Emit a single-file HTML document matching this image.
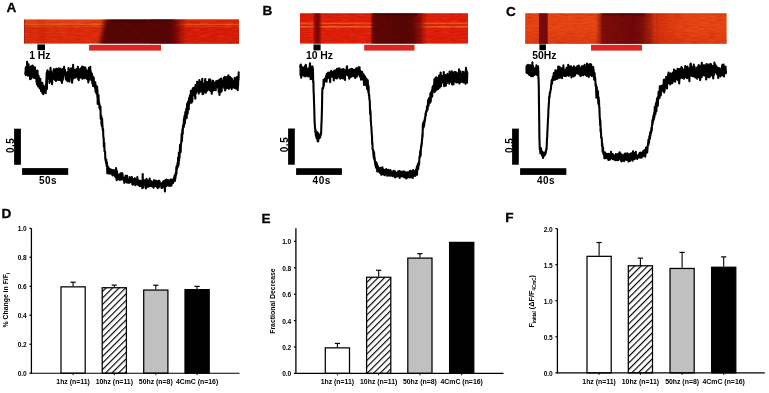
<!DOCTYPE html>
<html><head><meta charset="utf-8"><style>
html,body{margin:0;padding:0;background:#fff;}
body{width:769px;height:393px;overflow:hidden;position:relative;}
svg{position:absolute;left:0;top:0;will-change:transform;}
text{font-family:"Liberation Sans",sans-serif;font-weight:bold;fill:#000;}
.pl{font-size:13.6px;stroke:#000;stroke-width:0.3px;}
.hz{font-size:10.4px;}
.sb{font-size:10px;letter-spacing:0.5px;}
.tk{font-size:6.6px;}
.xl{font-size:6.9px;}
.yl{font-size:6.9px;}
</style></head><body>
<svg width="769" height="393" viewBox="0 0 769 393">
<defs>
<pattern id="hatchD" patternUnits="userSpaceOnUse" width="4.6" height="4.6" patternTransform="translate(2.8 0) rotate(45)">
<rect width="4.6" height="4.6" fill="#fff"/><line x1="0" y1="0" x2="0" y2="4.6" stroke="#000" stroke-width="2.3"/>
</pattern>
<pattern id="hatchE" patternUnits="userSpaceOnUse" width="4.6" height="4.6" patternTransform="translate(4.4 0) rotate(45)">
<rect width="4.6" height="4.6" fill="#fff"/><line x1="0" y1="0" x2="0" y2="4.6" stroke="#000" stroke-width="2.3"/>
</pattern>
<pattern id="hatchF" patternUnits="userSpaceOnUse" width="4.6" height="4.6" patternTransform="translate(2.0 0) rotate(45)">
<rect width="4.6" height="4.6" fill="#fff"/><line x1="0" y1="0" x2="0" y2="4.6" stroke="#000" stroke-width="2.3"/>
</pattern>

<linearGradient id="fadeR" x1="0" x2="1" y1="0" y2="0">
<stop offset="0" stop-color="#560505" stop-opacity="1"/>
<stop offset="0.3" stop-color="#680606" stop-opacity="0.9"/>
<stop offset="1" stop-color="#a01008" stop-opacity="0"/>
</linearGradient>
<linearGradient id="fadeL" x1="0" x2="1" y1="0" y2="0">
<stop offset="0" stop-color="#5e0606" stop-opacity="0"/>
<stop offset="1" stop-color="#5e0606" stop-opacity="1"/>
</linearGradient>
<linearGradient id="fadeRB" x1="0" x2="1" y1="0" y2="0">
<stop offset="0" stop-color="#560505" stop-opacity="1"/>
<stop offset="0.4" stop-color="#700606" stop-opacity="0.85"/>
<stop offset="1" stop-color="#b01008" stop-opacity="0"/>
</linearGradient>
<linearGradient id="fadeRC" x1="0" x2="1" y1="0" y2="0">
<stop offset="0" stop-color="#700808" stop-opacity="1"/>
<stop offset="0.5" stop-color="#a01808" stop-opacity="0.7"/>
<stop offset="1" stop-color="#d03010" stop-opacity="0"/>
</linearGradient>
<linearGradient id="fadeLC" x1="0" x2="1" y1="0" y2="0">
<stop offset="0" stop-color="#b02010" stop-opacity="0"/>
<stop offset="1" stop-color="#700808" stop-opacity="1"/>
</linearGradient>
<filter color-interpolation-filters="sRGB" id="soft2" x="-0.1" y="0" width="1.2" height="1"><feGaussianBlur stdDeviation="0.5 0"/></filter>
<linearGradient id="dkA" x1="99.5" x2="187" y1="0" y2="0" gradientUnits="userSpaceOnUse">
<stop offset="0" stop-color="#580505" stop-opacity="1"/>
<stop offset="0.80" stop-color="#580505" stop-opacity="1"/>
<stop offset="0.87" stop-color="#680606" stop-opacity="0.9"/>
<stop offset="0.94" stop-color="#901008" stop-opacity="0.5"/>
<stop offset="1" stop-color="#b01408" stop-opacity="0"/>
</linearGradient>
<linearGradient id="dkB" x1="371.4" x2="427" y1="0" y2="0" gradientUnits="userSpaceOnUse">
<stop offset="0" stop-color="#7a0806" stop-opacity="0.9"/>
<stop offset="0.07" stop-color="#5a0505" stop-opacity="0.96"/>
<stop offset="0.6" stop-color="#520404" stop-opacity="0.97"/>
<stop offset="0.75" stop-color="#5a0505" stop-opacity="0.95"/>
<stop offset="0.88" stop-color="#780808" stop-opacity="0.75"/>
<stop offset="1" stop-color="#b01008" stop-opacity="0"/>
</linearGradient>
<linearGradient id="redC" x1="0" x2="1" y1="0" y2="0">
<stop offset="0" stop-color="#c82008" stop-opacity="0.55"/>
<stop offset="1" stop-color="#c82008" stop-opacity="0"/>
</linearGradient>
<linearGradient id="botC" x1="0" x2="0" y1="0" y2="1">
<stop offset="0" stop-color="#c01808" stop-opacity="0"/>
<stop offset="1" stop-color="#c01808" stop-opacity="0.25"/>
</linearGradient>
<linearGradient id="stB" x1="0" x2="1" y1="0" y2="0">
<stop offset="0" stop-color="#a01008" stop-opacity="0.3"/>
<stop offset="0.22" stop-color="#800808" stop-opacity="0.85"/>
<stop offset="0.5" stop-color="#700606" stop-opacity="0.95"/>
<stop offset="0.78" stop-color="#800808" stop-opacity="0.85"/>
<stop offset="1" stop-color="#a01008" stop-opacity="0.3"/>
</linearGradient>
<linearGradient id="topdk" x1="0" x2="0" y1="0" y2="1">
<stop offset="0" stop-color="#200000" stop-opacity="0.5"/>
<stop offset="1" stop-color="#200000" stop-opacity="0"/>
</linearGradient>
<linearGradient id="dkC" x1="596" x2="660" y1="0" y2="0" gradientUnits="userSpaceOnUse">
<stop offset="0" stop-color="#a01808" stop-opacity="0"/>
<stop offset="0.1" stop-color="#7a0a08" stop-opacity="0.95"/>
<stop offset="0.6" stop-color="#720808" stop-opacity="1"/>
<stop offset="0.72" stop-color="#7a0a08" stop-opacity="0.95"/>
<stop offset="0.85" stop-color="#901208" stop-opacity="0.7"/>
<stop offset="1" stop-color="#c02010" stop-opacity="0"/>
</linearGradient>
<filter color-interpolation-filters="sRGB" id="soft" x="-0.1" y="0" width="1.2" height="1"><feGaussianBlur stdDeviation="2.0 0"/></filter>
<filter color-interpolation-filters="sRGB" id="grainD" x="0" y="0" width="100%" height="100%">
<feTurbulence type="fractalNoise" baseFrequency="0.15 0.8" numOctaves="2" seed="13"/>
<feColorMatrix type="matrix" values="0 0 0 0 0.1  0 0 0 0 0  0 0 0 0 0  0.4 0 0 0 -0.18"/>
<feComposite in2="SourceGraphic" operator="in"/>
</filter>
<filter color-interpolation-filters="sRGB" id="grainW" x="0" y="0" width="100%" height="100%">
<feTurbulence type="fractalNoise" baseFrequency="0.12 0.9" numOctaves="2" seed="4"/>
<feColorMatrix type="matrix" values="0 0 0 0 1  0 0 0 0 0.45  0 0 0 0 0.2  0.6 0 0 0 -0.27"/>
<feComposite in2="SourceGraphic" operator="in"/>
</filter>
<filter color-interpolation-filters="sRGB" id="grainK" x="0" y="0" width="100%" height="100%">
<feTurbulence type="fractalNoise" baseFrequency="0.12 0.9" numOctaves="2" seed="9"/>
<feColorMatrix type="matrix" values="0 0 0 0 0.35  0 0 0 0 0  0 0 0 0 0  0.45 0 0 0 -0.2"/>
<feComposite in2="SourceGraphic" operator="in"/>
</filter>
</defs>

<!-- panel labels -->
<text x="6.5" y="12.3" class="pl">A</text>
<text x="262.4" y="14.8" class="pl">B</text>
<text x="505.9" y="16" class="pl">C</text>
<text x="1.5" y="218" class="pl">D</text>
<text x="261.6" y="222.9" class="pl">E</text>
<text x="505.3" y="222.4" class="pl">F</text>

<!-- Heatmap A -->
<g>
<rect x="24" y="19.6" width="215" height="24" fill="#de2a0a"/>
<rect x="150" y="19.6" width="89" height="24" fill="#d81a06"/>
<rect x="24" y="19.6" width="90" height="4.6" fill="#ea5018" fill-opacity="0.55"/>
<rect x="170" y="19.6" width="69" height="4.6" fill="#ea5018" fill-opacity="0.2"/>
<rect x="37" y="19.6" width="9" height="24" fill="#a01808" fill-opacity="0.15"/>
<rect x="24" y="23.7" width="215" height="1.5" fill="#f87a28" fill-opacity="0.55"/>
<rect x="24" y="26.2" width="215" height="0.9" fill="#f09040" fill-opacity="0.3"/>
<rect x="24" y="19.6" width="215" height="24" filter="url(#grainW)"/>
<rect x="24" y="19.6" width="215" height="24" filter="url(#grainK)"/>
<polygon points="104.8,19.6 187,19.6 187,43.6 99.8,43.6" fill="url(#dkA)" filter="url(#soft)"/>
<rect x="111" y="19.6" width="62" height="3" fill="url(#topdk)"/>
<rect x="102" y="19.6" width="82" height="24" filter="url(#grainD)"/>
<rect x="24" y="19.6" width="1" height="24" fill="#7a1a10" fill-opacity="0.5"/>
</g>
<rect x="37.4" y="44.4" width="7.6" height="5.8" fill="#000"/>
<rect x="89.1" y="44.8" width="71.9" height="5.8" fill="#dc2420"/>
<text x="29.2" y="59.1" class="hz">1 Hz</text>

<!-- Heatmap B -->
<g>
<rect x="300" y="13.4" width="168" height="30.2" fill="#e01c08"/>
<rect x="300" y="13.4" width="168" height="1" fill="#a01008" fill-opacity="0.5"/>
<rect x="300" y="22.5" width="168" height="1.7" fill="#f87028" fill-opacity="0.6"/>
<rect x="300" y="26.0" width="168" height="1.5" fill="#f8a040" fill-opacity="0.55"/>
<rect x="300" y="13.4" width="168" height="30.2" filter="url(#grainW)"/>
<rect x="300" y="13.4" width="168" height="30.2" filter="url(#grainK)"/>
<rect x="313.0" y="13.4" width="8.6" height="30.2" fill="url(#stB)"/>
<rect x="371.4" y="13.4" width="55.5" height="30.2" fill="url(#dkB)" filter="url(#soft2)"/>
<rect x="373" y="13.4" width="45" height="3.5" fill="url(#topdk)"/>
<rect x="370" y="13.4" width="56" height="30.2" filter="url(#grainD)"/>
</g>
<rect x="313.5" y="44.5" width="7.1" height="5.9" fill="#000"/>
<rect x="364.2" y="44.8" width="50.3" height="5.8" fill="#dc2420"/>
<text x="305.9" y="59.1" class="hz">10 Hz</text>

<!-- Heatmap C -->
<g>
<rect x="525.2" y="13.4" width="201.4" height="30.4" fill="#e84412"/>
<rect x="525.2" y="13.4" width="201.4" height="1" fill="#b02008" fill-opacity="0.4"/>
<rect x="525.2" y="30" width="201.4" height="13.8" fill="url(#botC)"/>
<rect x="525.2" y="13.4" width="201.4" height="30.4" filter="url(#grainW)"/>
<rect x="525.2" y="13.4" width="201.4" height="30.4" filter="url(#grainK)"/>
<rect x="538.9" y="13.4" width="8.8" height="30.4" fill="#720808" fill-opacity="0.97" filter="url(#soft2)"/>
<rect x="596" y="13.4" width="64" height="30.4" fill="url(#dkC)"/>
<rect x="656" y="13.4" width="34" height="30.4" fill="url(#redC)"/>
<rect x="602" y="13.4" width="44" height="3.5" fill="url(#topdk)"/>
<rect x="596" y="13.4" width="61" height="30.4" filter="url(#grainD)"/>
</g>
<rect x="539.4" y="44.4" width="6.5" height="5.8" fill="#000"/>
<rect x="591" y="44.8" width="50.9" height="5.8" fill="#dc2420"/>
<text x="532.2" y="59.1" class="hz">50Hz</text>

<!-- traces -->
<polyline points="25.30,72.1 25.50,74.5 25.70,68.3 25.90,75.1 26.10,66.7 26.30,68.5 26.50,73.7 26.70,70.3 26.90,73.1 27.10,61.9 27.30,73.4 27.50,73.2 27.70,69.5 27.90,75.6 28.10,66.4 28.30,72.3 28.50,64.2 28.70,70.5 28.90,70.0 29.10,71.7 29.30,75.3 29.50,70.2 29.70,70.3 29.90,76.6 30.10,79.2 30.30,74.4 30.50,72.0 30.70,66.6 30.90,67.9 31.10,78.7 31.30,70.8 31.50,66.4 31.70,76.2 31.90,75.8 32.10,73.1 32.30,75.5 32.50,65.6 32.70,72.3 32.90,74.3 33.10,66.2 33.30,77.6 33.50,75.8 33.70,73.7 33.90,71.9 34.10,77.3 34.30,72.5 34.50,73.9 34.70,78.0 34.90,67.2 35.10,78.1 35.30,76.8 35.50,77.8 35.70,72.7 35.90,78.1 36.10,71.3 36.30,71.0 36.50,81.9 36.70,80.7 36.90,84.1 37.10,75.5 37.30,77.1 37.50,70.6 37.70,79.8 37.90,81.9 38.10,86.4 38.30,78.2 38.50,75.6 38.70,83.8 38.90,83.6 39.10,85.0 39.30,77.7 39.50,81.5 39.70,88.3 39.90,80.7 40.10,84.6 40.30,78.8 40.50,86.3 40.70,89.1 40.90,87.4 41.10,91.1 41.30,87.7 41.50,83.8 41.70,89.0 41.90,83.5 42.10,89.5 42.30,82.8 42.50,93.2 42.70,84.9 42.90,89.0 43.10,87.9 43.30,94.3 43.50,86.4 43.70,87.1 43.90,86.3 44.10,88.4 44.30,88.6 44.50,87.2 44.70,92.4 44.90,89.5 45.10,91.5 45.30,90.4 45.50,86.6 45.70,93.3 45.90,85.1 46.10,87.2 46.30,80.8 46.50,78.5 46.70,73.1 46.90,88.9 47.10,71.4 47.30,75.4 47.50,70.2 47.70,72.5 47.90,76.7 48.10,77.5 48.30,72.7 48.50,71.7 48.70,76.0 48.90,78.8 49.10,79.1 49.30,76.2 49.50,83.0 49.70,80.7 49.90,73.4 50.10,71.9 50.30,76.8 50.50,67.7 50.70,70.7 50.90,74.3 51.10,75.2 51.30,71.4 51.50,76.6 51.70,81.5 51.90,81.5 52.10,84.2 52.30,75.5 52.50,78.4 52.70,75.7 52.90,77.9 53.10,73.2 53.30,73.2 53.50,75.3 53.70,69.8 53.90,69.2 54.10,74.0 54.30,79.1 54.50,71.8 54.70,79.6 54.90,77.9 55.10,71.3 55.30,78.6 55.50,70.4 55.70,70.5 55.90,81.0 56.10,68.9 56.30,76.3 56.50,70.6 56.70,70.5 56.90,68.9 57.10,79.8 57.30,72.4 57.50,79.7 57.70,76.5 57.90,75.8 58.10,73.4 58.30,71.0 58.50,74.0 58.70,80.0 58.90,68.4 59.10,79.9 59.30,78.6 59.50,75.7 59.70,74.0 59.90,73.3 60.10,72.2 60.30,75.6 60.50,68.9 60.70,76.6 60.90,80.8 61.10,70.5 61.30,76.2 61.50,74.0 61.70,71.1 61.90,83.0 62.10,70.9 62.30,69.7 62.50,80.7 62.70,69.0 62.90,75.6 63.10,76.7 63.30,78.8 63.50,74.1 63.70,75.3 63.90,75.8 64.10,66.8 64.30,74.8 64.50,73.2 64.70,73.9 64.90,69.9 65.10,71.6 65.30,75.0 65.50,72.9 65.70,74.9 65.90,73.6 66.10,79.8 66.30,76.2 66.50,76.7 66.70,74.2 66.90,77.4 67.10,72.3 67.30,73.1 67.50,81.3 67.70,78.2 67.90,80.5 68.10,76.4 68.30,76.0 68.50,68.1 68.70,69.5 68.90,77.8 69.10,76.6 69.30,70.7 69.50,81.6 69.70,69.9 69.90,76.8 70.10,70.7 70.30,77.3 70.50,72.1 70.70,70.3 70.90,73.4 71.10,68.2 71.30,71.3 71.50,77.0 71.70,75.1 71.90,79.4 72.10,82.6 72.30,76.2 72.50,74.3 72.70,79.3 72.90,77.2 73.10,64.9 73.30,71.2 73.50,73.8 73.70,70.6 73.90,74.6 74.10,71.6 74.30,69.8 74.50,74.4 74.70,70.6 74.90,78.0 75.10,72.6 75.30,76.5 75.50,70.9 75.70,75.0 75.90,77.3 76.10,69.8 76.30,71.9 76.50,69.1 76.70,69.4 76.90,70.7 77.10,72.1 77.30,75.9 77.50,76.2 77.70,71.4 77.90,66.9 78.10,79.0 78.30,70.6 78.50,70.6 78.70,80.1 78.90,74.1 79.10,74.8 79.30,69.8 79.50,71.7 79.70,71.4 79.90,77.0 80.10,72.9 80.30,68.7 80.50,77.5 80.70,70.3 80.90,68.4 81.10,69.2 81.30,73.4 81.50,67.9 81.70,75.2 81.90,75.9 82.10,66.5 82.30,78.8 82.50,73.0 82.70,75.6 82.90,73.2 83.10,71.0 83.30,67.0 83.50,69.0 83.70,69.4 83.90,78.2 84.10,77.0 84.30,78.2 84.50,70.0 84.70,76.1 84.90,67.3 85.10,70.0 85.30,67.7 85.50,75.0 85.70,72.8 85.90,74.3 86.10,69.5 86.30,73.2 86.50,78.7 86.70,74.0 86.90,75.1 87.10,70.6 87.30,72.6 87.50,73.1 87.70,76.7 87.90,70.5 88.10,74.0 88.30,82.4 88.50,76.4 88.70,73.6 88.90,67.9 89.10,69.7 89.30,71.5 89.50,69.2 89.70,79.7 89.90,70.8 90.10,78.1 90.30,66.9 90.50,79.4 90.70,71.4 90.90,73.6 91.10,74.2 91.30,75.5 91.50,77.7 91.70,80.1 91.90,73.6 92.10,79.1 92.30,83.5 92.50,82.6 92.70,76.4 92.90,82.9 93.10,86.2 93.30,80.9 93.50,86.1 93.70,77.5 93.90,83.1 94.10,83.1 94.30,82.1 94.50,83.1 94.70,84.7 94.90,82.9 95.10,88.1 95.30,82.3 95.50,91.7 95.70,91.1 95.90,85.5 96.10,86.7 96.30,90.3 96.50,93.8 96.70,90.4 96.90,94.3 97.10,86.6 97.30,97.0 97.50,90.1 97.70,104.0 97.90,98.8 98.10,99.3 98.30,102.4 98.50,95.1 98.70,100.1 98.90,101.6 99.10,104.9 99.30,103.2 99.50,108.1 99.70,104.7 99.90,108.2 100.10,109.6 100.30,109.2 100.50,106.9 100.70,118.7 100.90,116.2 101.10,119.5 101.30,116.0 101.50,124.3 101.70,122.2 101.90,126.2 102.10,118.5 102.30,123.6 102.50,126.0 102.70,129.3 102.90,130.6 103.10,129.1 103.30,136.5 103.50,137.1 103.70,138.6 103.90,146.6 104.10,143.6 104.30,142.8 104.50,151.1 104.70,151.1 104.90,151.1 105.10,151.6 105.30,158.7 105.50,159.7 105.70,160.8 105.90,160.4 106.10,163.3 106.30,159.5 106.50,163.1 106.70,166.2 106.90,162.5 107.10,165.8 107.30,173.3 107.50,166.9 107.70,170.3 107.90,166.5 108.10,168.0 108.30,167.3 108.50,173.5 108.70,173.3 108.90,173.5 109.10,168.6 109.30,171.1 109.50,172.1 109.70,172.1 109.90,173.4 110.10,170.8 110.30,173.7 110.50,169.4 110.70,170.5 110.90,171.4 111.10,169.5 111.30,169.8 111.50,172.0 111.70,171.7 111.90,173.4 112.10,172.2 112.30,174.4 112.50,175.4 112.70,170.6 112.90,170.2 113.10,172.2 113.30,171.3 113.50,174.2 113.70,173.2 113.90,170.0 114.10,173.9 114.30,172.7 114.50,174.4 114.70,175.7 114.90,174.3 115.10,171.0 115.30,170.8 115.50,177.2 115.70,170.8 115.90,176.5 116.10,168.0 116.30,174.6 116.50,176.9 116.70,180.3 116.90,172.5 117.10,171.3 117.30,176.0 117.50,174.5 117.70,175.6 117.90,179.1 118.10,174.8 118.30,176.8 118.50,179.3 118.70,178.2 118.90,176.8 119.10,178.1 119.30,179.1 119.50,174.3 119.70,178.0 119.90,179.9 120.10,179.1 120.30,179.3 120.50,179.1 120.70,173.3 120.90,176.1 121.10,176.2 121.30,179.4 121.50,175.8 121.70,174.2 121.90,173.1 122.10,176.3 122.30,178.4 122.50,173.7 122.70,177.0 122.90,177.6 123.10,177.5 123.30,177.7 123.50,180.2 123.70,177.8 123.90,178.3 124.10,180.5 124.30,182.8 124.50,180.5 124.70,177.6 124.90,180.1 125.10,180.4 125.30,178.3 125.50,175.9 125.70,177.2 125.90,181.1 126.10,175.8 126.30,179.1 126.50,178.6 126.70,182.5 126.90,180.0 127.10,175.7 127.30,180.1 127.50,179.9 127.70,180.9 127.90,179.7 128.10,182.6 128.30,179.8 128.50,181.4 128.70,181.3 128.90,182.1 129.10,180.3 129.30,178.9 129.50,182.6 129.70,177.0 129.90,179.5 130.10,180.7 130.30,177.7 130.50,181.5 130.70,181.9 130.90,179.8 131.10,181.5 131.30,180.6 131.50,180.3 131.70,181.2 131.90,177.1 132.10,179.6 132.30,184.3 132.50,184.0 132.70,184.8 132.90,178.7 133.10,183.7 133.30,183.3 133.50,183.6 133.70,183.8 133.90,181.5 134.10,182.6 134.30,181.5 134.50,183.2 134.70,180.5 134.90,178.4 135.10,181.2 135.30,185.2 135.50,182.7 135.70,179.5 135.90,184.5 136.10,180.1 136.30,183.3 136.50,180.3 136.70,179.7 136.90,179.7 137.10,178.7 137.30,177.0 137.50,179.2 137.70,179.6 137.90,184.8 138.10,181.4 138.30,180.1 138.50,182.7 138.70,181.0 138.90,180.4 139.10,180.9 139.30,181.2 139.50,185.9 139.70,183.8 139.90,182.1 140.10,184.9 140.30,180.9 140.50,184.9 140.70,181.7 140.90,185.9 141.10,182.9 141.30,183.8 141.50,181.6 141.70,186.3 141.90,186.5 142.10,182.8 142.30,188.1 142.50,184.3 142.70,174.0 142.90,185.2 143.10,181.9 143.30,187.4 143.50,181.7 143.70,181.6 143.90,180.6 144.10,184.1 144.30,181.4 144.50,184.3 144.70,181.3 144.90,183.4 145.10,181.5 145.30,181.8 145.50,179.7 145.70,186.3 145.90,188.5 146.10,181.8 146.30,182.6 146.50,181.8 146.70,179.1 146.90,183.2 147.10,181.1 147.30,182.9 147.50,185.8 147.70,186.8 147.90,186.8 148.10,186.7 148.30,183.6 148.50,182.8 148.70,180.4 148.90,181.0 149.10,183.9 149.30,186.2 149.50,183.0 149.70,178.5 149.90,180.6 150.10,184.5 150.30,182.9 150.50,181.2 150.70,182.8 150.90,185.6 151.10,186.1 151.30,181.4 151.50,184.0 151.70,182.9 151.90,183.6 152.10,185.2 152.30,186.3 152.50,182.5 152.70,184.4 152.90,182.9 153.10,183.3 153.30,185.8 153.50,187.7 153.70,184.8 153.90,180.3 154.10,183.9 154.30,182.8 154.50,180.4 154.70,184.8 154.90,186.0 155.10,186.1 155.30,185.6 155.50,181.8 155.70,181.4 155.90,181.8 156.10,182.4 156.30,184.1 156.50,180.9 156.70,185.7 156.90,186.9 157.10,184.3 157.30,184.4 157.50,186.9 157.70,188.1 157.90,182.9 158.10,185.9 158.30,184.6 158.50,181.8 158.70,180.9 158.90,187.1 159.10,183.7 159.30,180.8 159.50,185.2 159.70,181.7 159.90,184.8 160.10,184.1 160.30,184.8 160.50,183.8 160.70,184.4 160.90,184.4 161.10,185.7 161.30,185.9 161.50,188.0 161.70,183.5 161.90,184.0 162.10,183.0 162.30,182.8 162.50,184.5 162.70,187.6 162.90,186.8 163.10,181.6 163.30,181.4 163.50,185.3 163.70,183.8 163.90,186.3 164.10,181.1 164.30,186.6 164.50,182.5 164.70,181.2 164.90,191.5 165.10,185.9 165.30,185.9 165.50,180.0 165.70,181.9 165.90,183.9 166.10,180.2 166.30,179.5 166.50,179.8 166.70,185.9 166.90,182.6 167.10,182.3 167.30,184.3 167.50,182.1 167.70,184.4 167.90,181.9 168.10,180.0 168.30,182.7 168.50,180.5 168.70,181.5 168.90,185.7 169.10,184.1 169.30,181.1 169.50,184.9 169.70,184.1 169.90,182.4 170.10,183.6 170.30,186.0 170.50,179.6 170.70,181.3 170.90,185.1 171.10,183.0 171.30,179.6 171.50,185.4 171.70,183.7 171.90,179.7 172.10,181.5 172.30,181.1 172.50,180.8 172.70,179.7 172.90,181.1 173.10,182.9 173.30,181.0 173.50,178.9 173.70,181.5 173.90,181.4 174.10,177.3 174.30,179.2 174.50,179.9 174.70,175.3 174.90,180.8 175.10,179.3 175.30,177.9 175.50,178.1 175.70,172.8 175.90,173.6 176.10,174.9 176.30,167.5 176.50,173.4 176.70,166.0 176.90,169.5 177.10,167.5 177.30,167.7 177.50,163.1 177.70,162.5 177.90,166.8 178.10,157.5 178.30,158.7 178.50,165.1 178.70,162.8 178.90,152.5 179.10,160.7 179.30,153.7 179.50,157.6 179.70,154.0 179.90,148.3 180.10,144.9 180.30,148.9 180.50,152.4 180.70,151.7 180.90,143.7 181.10,144.3 181.30,140.7 181.50,138.8 181.70,133.9 181.90,141.2 182.10,137.7 182.30,131.0 182.50,129.1 182.70,134.0 182.90,128.0 183.10,125.4 183.30,124.9 183.50,127.1 183.70,127.3 183.90,118.9 184.10,125.6 184.30,122.1 184.50,115.7 184.70,119.9 184.90,123.1 185.10,119.5 185.30,112.1 185.50,113.7 185.70,117.2 185.90,118.4 186.10,111.6 186.30,108.7 186.50,115.1 186.70,118.0 186.90,110.7 187.10,103.7 187.30,112.2 187.50,110.2 187.70,113.6 187.90,102.0 188.10,106.0 188.30,101.5 188.50,101.8 188.70,109.5 188.90,102.7 189.10,98.0 189.30,98.7 189.50,103.5 189.70,102.4 189.90,95.8 190.10,102.0 190.30,95.0 190.50,99.7 190.70,101.2 190.90,90.8 191.10,98.0 191.30,98.0 191.50,102.7 191.70,101.9 191.90,101.8 192.10,101.6 192.30,101.1 192.50,95.0 192.70,88.8 192.90,89.3 193.10,91.8 193.30,87.7 193.50,88.3 193.70,94.6 193.90,90.0 194.10,87.8 194.30,95.0 194.50,95.2 194.70,95.8 194.90,88.5 195.10,96.0 195.30,98.6 195.50,85.1 195.70,88.3 195.90,93.3 196.10,85.8 196.30,86.6 196.50,90.6 196.70,85.2 196.90,91.4 197.10,81.7 197.30,84.6 197.50,85.8 197.70,87.1 197.90,83.8 198.10,87.1 198.30,89.6 198.50,84.7 198.70,93.6 198.90,87.0 199.10,87.4 199.30,80.1 199.50,87.5 199.70,84.0 199.90,81.6 200.10,87.8 200.30,91.8 200.50,84.5 200.70,87.0 200.90,89.9 201.10,87.5 201.30,81.7 201.50,87.1 201.70,84.0 201.90,89.0 202.10,81.1 202.30,78.7 202.50,94.1 202.70,92.4 202.90,87.7 203.10,92.4 203.30,93.9 203.50,85.8 203.70,87.2 203.90,85.0 204.10,86.2 204.30,87.1 204.50,83.3 204.70,90.1 204.90,85.3 205.10,80.0 205.30,79.0 205.50,92.6 205.70,81.8 205.90,92.7 206.10,82.1 206.30,83.5 206.50,90.1 206.70,86.7 206.90,90.8 207.10,90.5 207.30,84.2 207.50,82.1 207.70,85.3 207.90,88.5 208.10,83.5 208.30,87.7 208.50,85.0 208.70,82.0 208.90,89.4 209.10,79.3 209.30,81.4 209.50,88.8 209.70,90.3 209.90,83.9 210.10,82.9 210.30,79.5 210.50,86.9 210.70,91.0 210.90,88.8 211.10,86.5 211.30,91.5 211.50,87.6 211.70,93.8 211.90,92.0 212.10,88.1 212.30,82.5 212.50,86.1 212.70,80.9 212.90,90.8 213.10,80.9 213.30,84.0 213.50,88.4 213.70,84.7 213.90,86.2 214.10,82.8 214.30,83.7 214.50,89.9 214.70,85.1 214.90,82.9 215.10,83.6 215.30,88.7 215.50,89.4 215.70,90.3 215.90,82.9 216.10,81.2 216.30,87.7 216.50,83.6 216.70,85.5 216.90,82.5 217.10,82.9 217.30,85.7 217.50,80.8 217.70,85.1 217.90,82.0 218.10,87.7 218.30,80.5 218.50,87.5 218.70,91.9 218.90,83.6 219.10,80.0 219.30,92.0 219.50,95.0 219.70,84.7 219.90,79.4 220.10,85.1 220.30,81.0 220.50,81.2 220.70,92.3 220.90,84.1 221.10,80.9 221.30,78.5 221.50,82.8 221.70,91.3 221.90,82.8 222.10,80.6 222.30,86.4 222.50,82.7 222.70,85.2 222.90,86.8 223.10,82.3 223.30,82.8 223.50,81.4 223.70,84.4 223.90,77.8 224.10,78.1 224.30,84.0 224.50,88.7 224.70,76.8 224.90,85.8 225.10,90.5 225.30,84.1 225.50,89.6 225.70,88.0 225.90,86.0 226.10,85.3 226.30,86.2 226.50,86.5 226.70,77.1 226.90,86.5 227.10,83.2 227.30,85.6 227.50,87.9 227.70,78.1 227.90,83.3 228.10,81.9 228.30,75.3 228.50,85.6 228.70,84.4 228.90,88.8 229.10,85.5 229.30,81.5 229.50,87.1 229.70,76.7 229.90,76.7 230.10,85.0 230.30,77.6 230.50,78.4 230.70,87.6 230.90,81.2 231.10,78.2 231.30,87.4 231.50,78.3 231.70,89.1 231.90,78.8 232.10,79.3 232.30,84.2 232.50,82.2 232.70,87.1 232.90,84.3 233.10,81.3 233.30,81.3 233.50,83.5 233.70,87.5 233.90,81.4 234.10,87.6 234.30,85.4 234.50,86.9 234.70,77.9 234.90,83.9 235.10,80.2 235.30,86.5 235.50,88.3 235.70,88.5 235.90,82.7 236.10,88.3 236.30,86.4 236.50,82.4 236.70,78.1 236.90,77.0 237.10,81.0 237.30,77.4 237.50,80.6 237.70,90.3 237.90,86.5 238.10,85.2 238.30,77.4 238.50,80.3 238.70,72.4 238.90,73.4" fill="none" stroke="#000" stroke-width="2.1" stroke-linejoin="round"/>
<polyline points="300.20,68.1 300.40,65.4 300.60,75.2 300.80,64.5 301.00,73.7 301.20,77.8 301.40,66.5 301.60,67.7 301.80,68.7 302.00,71.6 302.20,70.1 302.40,67.6 302.60,72.1 302.80,73.2 303.00,67.5 303.20,70.6 303.40,75.7 303.60,74.9 303.80,70.0 304.00,67.8 304.20,71.0 304.40,70.7 304.60,75.1 304.80,73.7 305.00,66.1 305.20,76.4 305.40,71.3 305.60,74.6 305.80,64.8 306.00,65.3 306.20,69.1 306.40,75.8 306.60,75.1 306.80,73.6 307.00,72.9 307.20,68.9 307.40,71.7 307.60,71.3 307.80,75.9 308.00,72.0 308.20,76.4 308.40,69.5 308.60,76.1 308.80,71.7 309.00,71.5 309.20,67.8 309.40,71.3 309.60,68.7 309.80,65.8 310.00,63.3 310.20,73.7 310.40,70.8 310.60,79.2 310.80,72.8 311.00,73.6 311.20,79.0 311.40,72.5 311.60,76.5 311.80,70.1 312.00,69.1 312.20,66.2 312.40,67.6 312.60,70.6 312.80,67.5 313.00,71.5 313.20,82.5 313.40,81.8 313.60,91.2 313.80,94.7 314.00,101.2 314.20,106.6 314.40,114.3 314.60,121.2 314.80,124.2 315.00,127.7 315.20,128.9 315.40,132.4 315.60,129.7 315.80,134.7 316.00,135.7 316.20,132.2 316.40,134.6 316.60,138.3 316.80,138.4 317.00,132.1 317.20,135.2 317.40,133.9 317.60,141.2 317.80,134.5 318.00,133.0 318.20,141.4 318.40,136.4 318.60,136.5 318.80,135.0 319.00,136.7 319.20,138.1 319.40,138.2 319.60,134.7 319.80,135.7 320.00,135.6 320.20,137.2 320.40,135.4 320.60,135.3 320.80,133.0 321.00,134.3 321.20,131.5 321.40,123.9 321.60,121.5 321.80,114.4 322.00,107.6 322.20,95.1 322.40,88.0 322.60,89.1 322.80,88.4 323.00,88.2 323.20,88.2 323.40,86.5 323.60,79.9 323.80,85.8 324.00,83.0 324.20,79.7 324.40,80.9 324.60,80.6 324.80,80.6 325.00,78.5 325.20,81.3 325.40,81.3 325.60,80.9 325.80,79.6 326.00,76.0 326.20,81.3 326.40,77.7 326.60,81.8 326.80,73.7 327.00,78.8 327.20,78.4 327.40,78.2 327.60,75.3 327.80,75.2 328.00,76.2 328.20,72.5 328.40,73.0 328.60,77.8 328.80,75.4 329.00,73.1 329.20,73.9 329.40,76.9 329.60,78.3 329.80,73.1 330.00,79.7 330.20,82.1 330.40,72.1 330.60,77.5 330.80,73.6 331.00,76.7 331.20,70.7 331.40,75.7 331.60,73.9 331.80,74.0 332.00,75.8 332.20,76.3 332.40,72.9 332.60,72.3 332.80,72.2 333.00,75.5 333.20,77.2 333.40,75.8 333.60,76.1 333.80,80.5 334.00,71.9 334.20,70.7 334.40,72.1 334.60,73.6 334.80,73.2 335.00,77.5 335.20,70.2 335.40,70.9 335.60,74.9 335.80,75.1 336.00,78.1 336.20,74.9 336.40,78.4 336.60,70.8 336.80,73.6 337.00,68.7 337.20,76.5 337.40,78.3 337.60,69.0 337.80,76.7 338.00,75.8 338.20,76.8 338.40,69.5 338.60,75.1 338.80,69.4 339.00,68.3 339.20,75.4 339.40,70.0 339.60,76.8 339.80,70.2 340.00,74.0 340.20,78.6 340.40,71.1 340.60,71.2 340.80,69.4 341.00,71.7 341.20,74.6 341.40,70.9 341.60,75.1 341.80,76.7 342.00,73.1 342.20,78.2 342.40,71.7 342.60,72.6 342.80,76.9 343.00,69.0 343.20,69.6 343.40,78.4 343.60,78.2 343.80,72.4 344.00,69.6 344.20,73.6 344.40,75.6 344.60,78.7 344.80,77.5 345.00,80.0 345.20,71.5 345.40,74.2 345.60,72.6 345.80,70.9 346.00,72.2 346.20,70.3 346.40,71.7 346.60,67.8 346.80,68.2 347.00,66.2 347.20,75.0 347.40,73.4 347.60,69.4 347.80,71.6 348.00,72.2 348.20,74.2 348.40,75.9 348.60,72.3 348.80,75.0 349.00,70.4 349.20,78.8 349.40,73.6 349.60,71.8 349.80,69.5 350.00,70.6 350.20,71.0 350.40,71.0 350.60,77.0 350.80,71.1 351.00,69.0 351.20,72.2 351.40,69.9 351.60,76.4 351.80,68.8 352.00,72.0 352.20,71.9 352.40,70.3 352.60,75.8 352.80,69.5 353.00,70.6 353.20,71.6 353.40,73.3 353.60,71.6 353.80,76.2 354.00,70.9 354.20,70.3 354.40,72.1 354.60,74.2 354.80,76.1 355.00,69.7 355.20,78.0 355.40,70.6 355.60,72.7 355.80,71.4 356.00,71.9 356.20,68.2 356.40,76.4 356.60,68.8 356.80,76.7 357.00,69.3 357.20,73.3 357.40,74.2 357.60,74.6 357.80,71.7 358.00,73.4 358.20,69.4 358.40,67.2 358.60,74.4 358.80,70.4 359.00,71.4 359.20,71.1 359.40,71.3 359.60,67.2 359.80,76.6 360.00,76.0 360.20,72.7 360.40,70.8 360.60,76.9 360.80,74.4 361.00,79.6 361.20,79.2 361.40,73.5 361.60,76.4 361.80,74.1 362.00,71.8 362.20,72.1 362.40,76.8 362.60,76.8 362.80,77.0 363.00,75.7 363.20,80.0 363.40,78.7 363.60,74.4 363.80,78.6 364.00,84.9 364.20,81.3 364.40,80.1 364.60,79.4 364.80,76.4 365.00,76.5 365.20,80.3 365.40,84.7 365.60,84.8 365.80,82.5 366.00,84.7 366.20,83.6 366.40,78.6 366.60,86.2 366.80,83.1 367.00,88.7 367.20,83.7 367.40,81.1 367.60,89.4 367.80,80.4 368.00,90.5 368.20,86.9 368.40,92.7 368.60,86.1 368.80,92.7 369.00,95.8 369.20,94.8 369.40,99.6 369.60,99.6 369.80,101.3 370.00,109.3 370.20,114.2 370.40,110.4 370.60,113.6 370.80,120.1 371.00,123.2 371.20,125.9 371.40,127.3 371.60,132.0 371.80,134.4 372.00,136.0 372.20,144.3 372.40,142.6 372.60,149.0 372.80,149.2 373.00,150.5 373.20,149.9 373.40,153.7 373.60,155.6 373.80,157.8 374.00,152.1 374.20,155.1 374.40,159.9 374.60,157.4 374.80,159.5 375.00,161.8 375.20,163.6 375.40,165.4 375.60,162.0 375.80,161.8 376.00,167.6 376.20,165.9 376.40,166.6 376.60,162.9 376.80,164.4 377.00,164.7 377.20,171.5 377.40,165.6 377.60,166.8 377.80,169.3 378.00,166.3 378.20,169.0 378.40,170.5 378.60,170.5 378.80,167.7 379.00,171.7 379.20,169.9 379.40,168.7 379.60,168.6 379.80,172.7 380.00,169.1 380.20,172.9 380.40,170.3 380.60,172.5 380.80,167.9 381.00,170.8 381.20,174.8 381.40,171.2 381.60,169.9 381.80,168.7 382.00,170.2 382.20,172.7 382.40,167.3 382.60,168.4 382.80,172.9 383.00,174.4 383.20,170.4 383.40,173.7 383.60,171.2 383.80,169.9 384.00,171.4 384.20,171.2 384.40,170.9 384.60,170.0 384.80,175.3 385.00,173.7 385.20,170.5 385.40,171.4 385.60,174.3 385.80,171.8 386.00,173.3 386.20,169.0 386.40,173.7 386.60,173.6 386.80,174.6 387.00,172.1 387.20,174.7 387.40,175.7 387.60,173.0 387.80,175.6 388.00,173.8 388.20,169.9 388.40,175.2 388.60,170.7 388.80,171.6 389.00,174.3 389.20,171.2 389.40,172.2 389.60,175.5 389.80,170.4 390.00,174.5 390.20,175.8 390.40,170.1 390.60,174.0 390.80,175.4 391.00,174.2 391.20,173.2 391.40,174.0 391.60,172.3 391.80,171.7 392.00,174.7 392.20,174.9 392.40,176.1 392.60,175.7 392.80,171.8 393.00,175.3 393.20,172.2 393.40,173.6 393.60,170.7 393.80,175.4 394.00,175.8 394.20,171.8 394.40,171.6 394.60,176.7 394.80,177.0 395.00,171.4 395.20,177.4 395.40,172.6 395.60,174.0 395.80,172.6 396.00,173.4 396.20,175.0 396.40,175.8 396.60,175.5 396.80,175.0 397.00,176.5 397.20,173.4 397.40,174.9 397.60,174.2 397.80,172.3 398.00,174.9 398.20,171.3 398.40,175.1 398.60,171.9 398.80,176.1 399.00,175.9 399.20,174.3 399.40,171.0 399.60,178.0 399.80,173.7 400.00,171.4 400.20,175.1 400.40,174.9 400.60,173.1 400.80,175.5 401.00,176.5 401.20,172.9 401.40,176.3 401.60,173.7 401.80,172.2 402.00,171.6 402.20,171.9 402.40,173.5 402.60,176.5 402.80,172.8 403.00,173.7 403.20,172.8 403.40,174.8 403.60,173.0 403.80,172.9 404.00,171.4 404.20,177.1 404.40,174.5 404.60,177.4 404.80,172.0 405.00,173.9 405.20,172.6 405.40,176.2 405.60,174.4 405.80,176.2 406.00,172.6 406.20,175.2 406.40,178.4 406.60,175.7 406.80,177.6 407.00,174.8 407.20,173.5 407.40,172.3 407.60,176.5 407.80,177.4 408.00,174.1 408.20,174.1 408.40,175.3 408.60,176.5 408.80,176.2 409.00,172.4 409.20,176.0 409.40,176.7 409.60,171.4 409.80,177.4 410.00,175.5 410.20,170.7 410.40,172.2 410.60,171.6 410.80,175.6 411.00,171.1 411.20,177.2 411.40,174.2 411.60,171.7 411.80,171.4 412.00,172.0 412.20,175.7 412.40,173.4 412.60,172.0 412.80,178.0 413.00,174.2 413.20,170.1 413.40,176.1 413.60,175.0 413.80,174.7 414.00,171.2 414.20,174.7 414.40,171.3 414.60,175.7 414.80,174.4 415.00,174.5 415.20,175.8 415.40,175.9 415.60,172.7 415.80,175.3 416.00,169.5 416.20,175.0 416.40,174.4 416.60,170.0 416.80,167.1 417.00,174.6 417.20,169.5 417.40,165.6 417.60,168.0 417.80,166.1 418.00,163.7 418.20,169.2 418.40,166.2 418.60,165.6 418.80,162.4 419.00,165.0 419.20,162.2 419.40,158.3 419.60,156.3 419.80,157.0 420.00,156.5 420.20,151.1 420.40,153.7 420.60,155.8 420.80,150.9 421.00,147.4 421.20,145.3 421.40,146.9 421.60,143.2 421.80,144.4 422.00,138.9 422.20,139.2 422.40,134.0 422.60,136.7 422.80,125.9 423.00,123.4 423.20,126.7 423.40,125.3 423.60,127.4 423.80,121.3 424.00,121.4 424.20,125.6 424.40,121.2 424.60,122.5 424.80,118.3 425.00,120.4 425.20,118.0 425.40,116.2 425.60,113.2 425.80,115.6 426.00,111.9 426.20,111.1 426.40,112.0 426.60,111.0 426.80,111.1 427.00,106.3 427.20,107.5 427.40,106.4 427.60,109.8 427.80,105.9 428.00,102.6 428.20,99.9 428.40,105.8 428.60,105.8 428.80,100.3 429.00,98.4 429.20,103.2 429.40,97.9 429.60,103.2 429.80,99.1 430.00,101.7 430.20,98.2 430.40,93.5 430.60,101.8 430.80,100.5 431.00,92.3 431.20,97.0 431.40,96.6 431.60,91.7 431.80,93.2 432.00,90.3 432.20,96.8 432.40,89.5 432.60,87.0 432.80,89.2 433.00,86.1 433.20,90.8 433.40,88.9 433.60,87.9 433.80,86.9 434.00,89.1 434.20,83.9 434.40,79.4 434.60,92.2 434.80,81.6 435.00,83.1 435.20,88.9 435.40,91.0 435.60,77.9 435.80,83.2 436.00,85.3 436.20,77.4 436.40,83.2 436.60,84.6 436.80,89.6 437.00,77.8 437.20,81.7 437.40,81.8 437.60,84.5 437.80,82.3 438.00,89.1 438.20,88.5 438.40,79.1 438.60,79.1 438.80,80.1 439.00,76.3 439.20,75.5 439.40,78.1 439.60,87.6 439.80,81.6 440.00,78.6 440.20,85.9 440.40,78.7 440.60,72.6 440.80,73.5 441.00,86.2 441.20,75.9 441.40,81.6 441.60,80.3 441.80,81.9 442.00,81.0 442.20,76.1 442.40,76.6 442.60,78.6 442.80,76.2 443.00,79.0 443.20,79.5 443.40,79.6 443.60,84.0 443.80,72.1 444.00,78.3 444.20,86.1 444.40,80.9 444.60,78.9 444.80,77.0 445.00,76.5 445.20,75.1 445.40,76.5 445.60,84.0 445.80,85.6 446.00,77.8 446.20,79.5 446.40,82.0 446.60,82.8 446.80,83.1 447.00,79.1 447.20,76.3 447.40,73.9 447.60,80.8 447.80,78.8 448.00,74.9 448.20,75.8 448.40,80.8 448.60,79.9 448.80,80.5 449.00,75.7 449.20,83.8 449.40,81.0 449.60,71.6 449.80,76.0 450.00,78.6 450.20,79.5 450.40,74.4 450.60,77.0 450.80,76.8 451.00,74.4 451.20,82.0 451.40,75.5 451.60,77.5 451.80,71.3 452.00,84.2 452.20,72.7 452.40,84.6 452.60,76.6 452.80,81.3 453.00,81.8 453.20,75.6 453.40,75.5 453.60,84.2 453.80,79.2 454.00,73.3 454.20,72.1 454.40,73.7 454.60,76.9 454.80,77.9 455.00,80.9 455.20,72.7 455.40,77.7 455.60,72.1 455.80,73.4 456.00,76.8 456.20,82.4 456.40,73.0 456.60,72.9 456.80,79.8 457.00,78.0 457.20,73.2 457.40,80.5 457.60,81.1 457.80,82.2 458.00,81.0 458.20,81.5 458.40,74.3 458.60,82.2 458.80,80.2 459.00,69.3 459.20,76.8 459.40,83.4 459.60,78.6 459.80,76.5 460.00,79.1 460.20,79.8 460.40,71.4 460.60,78.2 460.80,82.1 461.00,73.9 461.20,76.8 461.40,75.8 461.60,77.9 461.80,80.4 462.00,74.8 462.20,80.5 462.40,81.1 462.60,80.6 462.80,71.7 463.00,73.2 463.20,82.5 463.40,78.7 463.60,72.1 463.80,78.0 464.00,74.8 464.20,77.0 464.40,75.5 464.60,81.5 464.80,79.4 465.00,81.3 465.20,81.0 465.40,83.8 465.60,81.4 465.80,70.7 466.00,67.8 466.20,71.4 466.40,77.3 466.60,75.3 466.80,71.4 467.00,82.7 467.20,74.8 467.40,72.4" fill="none" stroke="#000" stroke-width="2.1" stroke-linejoin="round"/>
<polyline points="526.20,66.0 526.40,66.2 526.60,72.7 526.80,72.0 527.00,65.6 527.20,68.0 527.40,73.1 527.60,66.1 527.80,72.0 528.00,64.9 528.20,70.1 528.40,72.0 528.60,69.9 528.80,72.6 529.00,70.7 529.20,74.9 529.40,67.2 529.60,72.1 529.80,73.4 530.00,65.0 530.20,69.7 530.40,74.4 530.60,68.8 530.80,69.7 531.00,76.2 531.20,71.8 531.40,65.7 531.60,71.9 531.80,66.5 532.00,71.5 532.20,67.6 532.40,62.4 532.60,74.3 532.80,76.3 533.00,66.0 533.20,71.9 533.40,68.3 533.60,71.7 533.80,72.8 534.00,68.0 534.20,75.3 534.40,74.5 534.60,72.8 534.80,73.6 535.00,70.6 535.20,72.7 535.40,73.1 535.60,68.1 535.80,74.2 536.00,69.8 536.20,71.6 536.40,65.2 536.60,74.1 536.80,69.3 537.00,74.9 537.20,69.0 537.40,70.5 537.60,66.5 537.80,71.8 538.00,66.2 538.20,68.8 538.40,76.3 538.60,79.6 538.80,87.4 539.00,105.5 539.20,118.9 539.40,137.9 539.60,143.2 539.80,149.4 540.00,149.0 540.20,151.2 540.40,153.3 540.60,153.0 540.80,152.4 541.00,148.3 541.20,150.7 541.40,150.6 541.60,153.0 541.80,153.3 542.00,155.4 542.20,151.5 542.40,154.4 542.60,155.3 542.80,155.7 543.00,157.9 543.20,155.9 543.40,154.2 543.60,155.1 543.80,156.1 544.00,152.6 544.20,154.5 544.40,153.4 544.60,153.9 544.80,155.0 545.00,153.7 545.20,152.5 545.40,153.8 545.60,152.0 545.80,152.8 546.00,150.4 546.20,149.7 546.40,149.8 546.60,148.2 546.80,144.2 547.00,138.6 547.20,137.3 547.40,131.2 547.60,128.3 547.80,122.9 548.00,119.1 548.20,116.6 548.40,110.2 548.60,107.2 548.80,104.1 549.00,102.0 549.20,96.6 549.40,97.6 549.60,96.4 549.80,92.7 550.00,93.5 550.20,92.2 550.40,91.2 550.60,90.1 550.80,88.9 551.00,88.2 551.20,84.4 551.40,85.0 551.60,81.1 551.80,79.9 552.00,83.8 552.20,80.5 552.40,79.7 552.60,79.6 552.80,76.9 553.00,77.8 553.20,78.4 553.40,79.9 553.60,74.9 553.80,73.1 554.00,77.3 554.20,77.7 554.40,76.5 554.60,75.9 554.80,74.1 555.00,79.8 555.20,72.8 555.40,70.4 555.60,71.6 555.80,73.9 556.00,72.9 556.20,75.8 556.40,78.9 556.60,71.2 556.80,72.1 557.00,73.4 557.20,77.3 557.40,78.8 557.60,69.9 557.80,71.5 558.00,76.3 558.20,66.6 558.40,74.2 558.60,68.3 558.80,75.5 559.00,77.8 559.20,73.5 559.40,69.8 559.60,66.8 559.80,68.8 560.00,77.6 560.20,71.9 560.40,76.4 560.60,72.0 560.80,70.8 561.00,74.8 561.20,68.5 561.40,70.2 561.60,75.9 561.80,71.4 562.00,78.1 562.20,70.1 562.40,67.9 562.60,73.1 562.80,75.2 563.00,71.0 563.20,75.0 563.40,65.4 563.60,72.4 563.80,75.4 564.00,74.6 564.20,71.6 564.40,74.8 564.60,76.0 564.80,72.2 565.00,71.4 565.20,72.5 565.40,75.2 565.60,69.5 565.80,74.2 566.00,75.9 566.20,73.4 566.40,69.3 566.60,67.7 566.80,72.5 567.00,75.3 567.20,73.4 567.40,72.5 567.60,71.0 567.80,69.2 568.00,75.0 568.20,64.8 568.40,74.2 568.60,75.7 568.80,75.8 569.00,68.3 569.20,66.9 569.40,74.8 569.60,70.5 569.80,67.9 570.00,67.5 570.20,71.2 570.40,66.2 570.60,70.3 570.80,73.1 571.00,75.0 571.20,66.5 571.40,77.4 571.60,72.3 571.80,70.1 572.00,74.3 572.20,70.4 572.40,74.7 572.60,68.3 572.80,73.2 573.00,67.7 573.20,73.9 573.40,76.1 573.60,76.4 573.80,66.4 574.00,73.0 574.20,74.8 574.40,68.6 574.60,67.4 574.80,73.8 575.00,75.5 575.20,71.2 575.40,72.4 575.60,73.6 575.80,67.9 576.00,71.3 576.20,71.1 576.40,72.8 576.60,72.4 576.80,67.6 577.00,71.6 577.20,73.1 577.40,66.0 577.60,66.7 577.80,67.0 578.00,73.7 578.20,72.9 578.40,68.4 578.60,68.0 578.80,65.6 579.00,70.2 579.20,69.4 579.40,74.4 579.60,68.4 579.80,72.5 580.00,73.7 580.20,74.0 580.40,73.4 580.60,76.2 580.80,70.7 581.00,75.4 581.20,72.9 581.40,66.5 581.60,70.0 581.80,74.6 582.00,74.6 582.20,66.2 582.40,71.4 582.60,71.1 582.80,66.4 583.00,66.3 583.20,75.3 583.40,72.7 583.60,69.4 583.80,70.2 584.00,70.7 584.20,74.2 584.40,73.9 584.60,64.8 584.80,67.1 585.00,72.6 585.20,67.6 585.40,74.3 585.60,72.2 585.80,71.0 586.00,75.3 586.20,72.7 586.40,66.7 586.60,66.2 586.80,76.0 587.00,63.6 587.20,73.5 587.40,75.0 587.60,67.8 587.80,66.7 588.00,70.5 588.20,71.5 588.40,72.5 588.60,67.1 588.80,76.9 589.00,64.6 589.20,73.3 589.40,66.6 589.60,74.4 589.80,68.2 590.00,74.8 590.20,64.0 590.40,68.7 590.60,73.2 590.80,74.1 591.00,75.1 591.20,64.6 591.40,68.8 591.60,72.0 591.80,68.7 592.00,76.2 592.20,71.5 592.40,70.2 592.60,67.7 592.80,73.7 593.00,67.0 593.20,67.0 593.40,69.2 593.60,69.7 593.80,72.5 594.00,75.0 594.20,79.6 594.40,79.0 594.60,73.0 594.80,75.9 595.00,76.9 595.20,78.5 595.40,81.6 595.60,86.0 595.80,84.7 596.00,84.6 596.20,91.6 596.40,97.8 596.60,86.8 596.80,87.4 597.00,93.9 597.20,92.6 597.40,95.6 597.60,96.3 597.80,96.9 598.00,91.3 598.20,102.1 598.40,103.9 598.60,97.4 598.80,100.7 599.00,100.4 599.20,107.6 599.40,107.4 599.60,113.7 599.80,118.9 600.00,118.8 600.20,125.5 600.40,121.1 600.60,131.8 600.80,128.8 601.00,132.6 601.20,138.0 601.40,137.0 601.60,138.1 601.80,138.7 602.00,146.3 602.20,143.0 602.40,144.9 602.60,151.8 602.80,151.8 603.00,147.6 603.20,149.7 603.40,153.7 603.60,154.3 603.80,152.7 604.00,153.2 604.20,154.1 604.40,158.3 604.60,153.4 604.80,152.9 605.00,152.4 605.20,155.9 605.40,158.1 605.60,156.7 605.80,157.5 606.00,154.1 606.20,155.5 606.40,154.6 606.60,155.2 606.80,153.8 607.00,158.1 607.20,154.3 607.40,155.6 607.60,157.9 607.80,157.1 608.00,155.4 608.20,158.8 608.40,159.9 608.60,153.8 608.80,154.7 609.00,157.7 609.20,157.0 609.40,155.6 609.60,159.8 609.80,158.3 610.00,159.3 610.20,155.9 610.40,157.9 610.60,153.9 610.80,154.4 611.00,151.8 611.20,155.8 611.40,158.1 611.60,155.3 611.80,157.7 612.00,157.0 612.20,154.1 612.40,154.4 612.60,154.0 612.80,159.1 613.00,154.8 613.20,156.0 613.40,156.0 613.60,159.1 613.80,159.0 614.00,157.4 614.20,157.3 614.40,155.9 614.60,157.5 614.80,159.5 615.00,157.8 615.20,160.3 615.40,160.3 615.60,154.4 615.80,156.9 616.00,154.1 616.20,156.3 616.40,158.6 616.60,157.7 616.80,158.1 617.00,155.1 617.20,160.3 617.40,158.1 617.60,155.1 617.80,159.8 618.00,154.7 618.20,153.7 618.40,160.0 618.60,154.7 618.80,156.3 619.00,156.2 619.20,157.5 619.40,158.6 619.60,152.4 619.80,155.0 620.00,157.7 620.20,155.3 620.40,153.4 620.60,153.6 620.80,156.6 621.00,160.7 621.20,154.6 621.40,157.3 621.60,161.5 621.80,159.2 622.00,156.8 622.20,156.8 622.40,155.0 622.60,156.2 622.80,156.0 623.00,160.1 623.20,158.7 623.40,159.3 623.60,157.5 623.80,159.8 624.00,161.2 624.20,155.6 624.40,156.8 624.60,153.9 624.80,154.7 625.00,159.9 625.20,154.7 625.40,157.9 625.60,153.5 625.80,158.8 626.00,158.7 626.20,158.4 626.40,154.7 626.60,156.0 626.80,155.5 627.00,160.0 627.20,159.0 627.40,153.4 627.60,155.3 627.80,155.4 628.00,154.2 628.20,159.2 628.40,160.3 628.60,161.5 628.80,154.3 629.00,155.7 629.20,159.8 629.40,156.8 629.60,156.6 629.80,158.5 630.00,161.0 630.20,154.1 630.40,157.1 630.60,153.5 630.80,154.5 631.00,156.7 631.20,154.9 631.40,159.4 631.60,155.0 631.80,153.4 632.00,158.3 632.20,154.4 632.40,152.7 632.60,160.8 632.80,154.8 633.00,151.2 633.20,155.7 633.40,153.5 633.60,158.9 633.80,152.7 634.00,154.4 634.20,158.6 634.40,156.0 634.60,159.1 634.80,158.7 635.00,158.4 635.20,153.7 635.40,156.9 635.60,154.2 635.80,151.9 636.00,158.0 636.20,156.1 636.40,157.6 636.60,157.0 636.80,157.3 637.00,156.4 637.20,158.9 637.40,155.7 637.60,157.8 637.80,157.9 638.00,156.8 638.20,156.8 638.40,155.2 638.60,157.1 638.80,154.3 639.00,154.0 639.20,155.0 639.40,155.6 639.60,154.7 639.80,152.7 640.00,157.8 640.20,156.9 640.40,156.1 640.60,156.8 640.80,154.2 641.00,152.6 641.20,156.7 641.40,154.7 641.60,157.7 641.80,153.6 642.00,155.8 642.20,152.8 642.40,156.3 642.60,154.9 642.80,154.5 643.00,156.2 643.20,151.3 643.40,154.1 643.60,150.7 643.80,150.6 644.00,151.6 644.20,152.3 644.40,152.4 644.60,150.3 644.80,150.0 645.00,150.4 645.20,156.6 645.40,154.7 645.60,152.4 645.80,150.2 646.00,147.6 646.20,149.2 646.40,150.4 646.60,151.2 646.80,148.4 647.00,152.7 647.20,152.4 647.40,150.0 647.60,147.0 647.80,145.3 648.00,143.3 648.20,145.2 648.40,139.8 648.60,144.1 648.80,141.2 649.00,142.4 649.20,139.0 649.40,136.0 649.60,139.1 649.80,137.5 650.00,138.2 650.20,132.3 650.40,135.7 650.60,133.4 650.80,131.4 651.00,132.7 651.20,132.8 651.40,127.8 651.60,128.8 651.80,130.4 652.00,124.5 652.20,125.4 652.40,120.0 652.60,123.6 652.80,122.2 653.00,121.0 653.20,117.1 653.40,117.7 653.60,115.0 653.80,119.8 654.00,116.5 654.20,112.9 654.40,117.2 654.60,111.9 654.80,106.7 655.00,110.8 655.20,113.8 655.40,114.3 655.60,110.4 655.80,104.0 656.00,108.7 656.20,102.8 656.40,111.1 656.60,103.4 656.80,101.2 657.00,98.8 657.20,104.4 657.40,106.3 657.60,97.3 657.80,105.7 658.00,102.8 658.20,98.8 658.40,95.8 658.60,91.7 658.80,97.6 659.00,92.7 659.20,91.8 659.40,91.3 659.60,97.9 659.80,86.2 660.00,95.0 660.20,89.5 660.40,93.3 660.60,91.6 660.80,95.5 661.00,86.8 661.20,85.9 661.40,86.5 661.60,89.3 661.80,86.8 662.00,86.5 662.20,85.5 662.40,87.2 662.60,90.4 662.80,87.4 663.00,86.5 663.20,91.3 663.40,89.9 663.60,84.3 663.80,79.7 664.00,87.9 664.20,92.5 664.40,87.2 664.60,90.7 664.80,84.9 665.00,85.1 665.20,79.3 665.40,85.5 665.60,87.8 665.80,79.8 666.00,78.5 666.20,76.9 666.40,78.7 666.60,80.4 666.80,84.8 667.00,88.4 667.20,83.0 667.40,82.9 667.60,83.3 667.80,79.6 668.00,78.8 668.20,74.4 668.40,80.9 668.60,72.6 668.80,81.4 669.00,81.6 669.20,83.3 669.40,74.9 669.60,77.1 669.80,75.0 670.00,81.0 670.20,84.5 670.40,77.8 670.60,77.8 670.80,73.4 671.00,80.8 671.20,77.7 671.40,83.1 671.60,75.9 671.80,80.1 672.00,77.7 672.20,83.1 672.40,82.6 672.60,80.7 672.80,78.3 673.00,72.5 673.20,72.6 673.40,79.5 673.60,72.0 673.80,77.5 674.00,69.6 674.20,76.7 674.40,74.1 674.60,81.2 674.80,70.6 675.00,70.3 675.20,81.8 675.40,74.0 675.60,73.4 675.80,72.5 676.00,71.1 676.20,71.5 676.40,79.2 676.60,77.7 676.80,73.7 677.00,75.8 677.20,79.3 677.40,79.1 677.60,68.9 677.80,72.5 678.00,80.2 678.20,69.6 678.40,78.3 678.60,76.1 678.80,78.7 679.00,69.1 679.20,83.5 679.40,79.0 679.60,71.2 679.80,75.9 680.00,69.5 680.20,78.0 680.40,71.0 680.60,74.4 680.80,78.1 681.00,68.7 681.20,75.5 681.40,67.1 681.60,70.1 681.80,74.6 682.00,67.8 682.20,74.5 682.40,70.8 682.60,73.9 682.80,75.8 683.00,78.2 683.20,69.6 683.40,70.5 683.60,74.7 683.80,72.6 684.00,78.7 684.20,76.1 684.40,72.6 684.60,72.1 684.80,74.9 685.00,77.2 685.20,66.1 685.40,73.7 685.60,67.9 685.80,71.6 686.00,69.8 686.20,67.8 686.40,72.4 686.60,73.7 686.80,70.2 687.00,78.2 687.20,69.2 687.40,66.5 687.60,77.6 687.80,71.8 688.00,74.1 688.20,76.2 688.40,73.9 688.60,74.0 688.80,72.1 689.00,75.0 689.20,75.6 689.40,81.2 689.60,67.9 689.80,71.6 690.00,73.6 690.20,74.4 690.40,64.0 690.60,73.8 690.80,63.5 691.00,68.7 691.20,75.4 691.40,74.4 691.60,70.7 691.80,71.0 692.00,67.0 692.20,69.0 692.40,76.3 692.60,70.0 692.80,76.0 693.00,73.2 693.20,71.2 693.40,71.0 693.60,76.2 693.80,64.5 694.00,66.8 694.20,66.7 694.40,68.2 694.60,66.8 694.80,76.7 695.00,70.0 695.20,75.2 695.40,77.5 695.60,71.9 695.80,70.8 696.00,70.4 696.20,71.2 696.40,69.1 696.60,70.1 696.80,68.6 697.00,67.6 697.20,78.7 697.40,75.9 697.60,72.4 697.80,66.9 698.00,76.2 698.20,68.5 698.40,69.4 698.60,65.0 698.80,77.0 699.00,73.5 699.20,72.7 699.40,71.5 699.60,69.9 699.80,69.9 700.00,76.7 700.20,80.1 700.40,65.9 700.60,75.7 700.80,73.3 701.00,67.2 701.20,77.2 701.40,74.9 701.60,77.2 701.80,62.9 702.00,70.4 702.20,75.3 702.40,72.7 702.60,68.5 702.80,72.1 703.00,68.7 703.20,67.7 703.40,69.4 703.60,65.3 703.80,67.9 704.00,66.7 704.20,75.6 704.40,65.3 704.60,71.5 704.80,71.5 705.00,72.0 705.20,67.4 705.40,74.4 705.60,65.3 705.80,75.3 706.00,68.8 706.20,79.4 706.40,69.2 706.60,64.1 706.80,73.8 707.00,64.4 707.20,76.1 707.40,72.2 707.60,67.7 707.80,65.9 708.00,69.8 708.20,72.9 708.40,77.1 708.60,70.5 708.80,76.5 709.00,72.8 709.20,64.4 709.40,77.3 709.60,76.4 709.80,66.8 710.00,68.8 710.20,76.2 710.40,73.6 710.60,65.9 710.80,64.0 711.00,68.2 711.20,64.6 711.40,70.5 711.60,73.3 711.80,73.8 712.00,75.0 712.20,69.8 712.40,71.9 712.60,66.2 712.80,76.4 713.00,72.3 713.20,78.4 713.40,75.0 713.60,66.0 713.80,75.4 714.00,71.0 714.20,72.4 714.40,62.5 714.60,72.8 714.80,69.7 715.00,66.0 715.20,64.2 715.40,70.9 715.60,66.1 715.80,65.7 716.00,67.1 716.20,66.5 716.40,67.3 716.60,73.1 716.80,73.1 717.00,74.3 717.20,67.4 717.40,69.5 717.60,72.0 717.80,67.7 718.00,72.8 718.20,78.0 718.40,69.6 718.60,75.1 718.80,69.8 719.00,68.2 719.20,69.6 719.40,69.4 719.60,68.3 719.80,73.7 720.00,69.1 720.20,70.9 720.40,76.5 720.60,75.9 720.80,72.4 721.00,72.7 721.20,74.2 721.40,73.7 721.60,71.1 721.80,75.5 722.00,66.3 722.20,68.1 722.40,64.8 722.60,67.6 722.80,74.6 723.00,72.8 723.20,74.1 723.40,70.5 723.60,64.5 723.80,74.9 724.00,76.4 724.20,68.1 724.40,71.2 724.60,70.1 724.80,72.8 725.00,69.6 725.20,73.0 725.40,66.9 725.60,66.7 725.80,73.3 726.00,70.7" fill="none" stroke="#000" stroke-width="2.1" stroke-linejoin="round"/>

<!-- scale bars -->
<rect x="14.1" y="128.7" width="6.8" height="36.1" fill="#000"/>
<rect x="22.1" y="168.1" width="46.1" height="6.8" fill="#000"/>
<text transform="translate(13.9,153) rotate(-90)" class="sb">0.5</text>
<text x="39" y="183.8" class="sb">50s</text>

<rect x="288.1" y="128.5" width="6.7" height="36.2" fill="#000"/>
<rect x="296.1" y="168.2" width="45.8" height="6.7" fill="#000"/>
<text transform="translate(287.8,152.2) rotate(-90)" class="sb">0.5</text>
<text x="312.6" y="184" class="sb">40s</text>

<rect x="512.1" y="128.6" width="6.7" height="36.1" fill="#000"/>
<rect x="520.1" y="168.2" width="46.2" height="6.7" fill="#000"/>
<text transform="translate(512.5,153) rotate(-90)" class="sb">0.5</text>
<text x="537" y="183.8" class="sb">40s</text>

<!-- bar charts -->
<line x1="73.10" y1="286.26" x2="73.10" y2="282.20" stroke="#000" stroke-width="1.1"/>
<line x1="70.50" y1="282.20" x2="75.70" y2="282.20" stroke="#000" stroke-width="1.2"/>
<rect x="61.00" y="286.86" width="24.20" height="86.34" fill="#ffffff" stroke="#000" stroke-width="1.25"/>
<line x1="73.10" y1="373.20" x2="73.10" y2="375.20" stroke="#000" stroke-width="0.9"/>
<line x1="114.30" y1="287.13" x2="114.30" y2="285.10" stroke="#000" stroke-width="1.1"/>
<line x1="111.70" y1="285.10" x2="116.90" y2="285.10" stroke="#000" stroke-width="1.2"/>
<rect x="102.20" y="287.73" width="24.20" height="85.47" fill="url(#hatchD)" stroke="#000" stroke-width="1.25"/>
<line x1="114.30" y1="373.20" x2="114.30" y2="375.20" stroke="#000" stroke-width="0.9"/>
<line x1="155.80" y1="289.45" x2="155.80" y2="285.25" stroke="#000" stroke-width="1.1"/>
<line x1="153.20" y1="285.25" x2="158.40" y2="285.25" stroke="#000" stroke-width="1.2"/>
<rect x="143.70" y="290.05" width="24.20" height="83.15" fill="#c0c0c0" stroke="#000" stroke-width="1.25"/>
<line x1="155.80" y1="373.20" x2="155.80" y2="375.20" stroke="#000" stroke-width="0.9"/>
<line x1="197.10" y1="289.01" x2="197.10" y2="286.40" stroke="#000" stroke-width="1.1"/>
<line x1="194.50" y1="286.40" x2="199.70" y2="286.40" stroke="#000" stroke-width="1.2"/>
<rect x="185.00" y="289.61" width="24.20" height="83.59" fill="#000000" stroke="#000" stroke-width="1.25"/>
<line x1="197.10" y1="373.20" x2="197.10" y2="375.20" stroke="#000" stroke-width="0.9"/>
<line x1="31.40" y1="228.30" x2="31.40" y2="373.80" stroke="#000" stroke-width="1.3"/>
<line x1="30.90" y1="373.20" x2="239.50" y2="373.20" stroke="#000" stroke-width="1.1"/>
<line x1="29.40" y1="373.20" x2="31.40" y2="373.20" stroke="#000" stroke-width="1.2"/>
<text x="26.80" y="376.10" class="tk" text-anchor="end">0.0</text>
<line x1="29.40" y1="344.22" x2="31.40" y2="344.22" stroke="#000" stroke-width="1.2"/>
<text x="26.80" y="347.12" class="tk" text-anchor="end">0.2</text>
<line x1="29.40" y1="315.24" x2="31.40" y2="315.24" stroke="#000" stroke-width="1.2"/>
<text x="26.80" y="318.14" class="tk" text-anchor="end">0.4</text>
<line x1="29.40" y1="286.26" x2="31.40" y2="286.26" stroke="#000" stroke-width="1.2"/>
<text x="26.80" y="289.16" class="tk" text-anchor="end">0.6</text>
<line x1="29.40" y1="257.28" x2="31.40" y2="257.28" stroke="#000" stroke-width="1.2"/>
<text x="26.80" y="260.18" class="tk" text-anchor="end">0.8</text>
<line x1="29.40" y1="228.30" x2="31.40" y2="228.30" stroke="#000" stroke-width="1.2"/>
<text x="26.80" y="231.20" class="tk" text-anchor="end">1.0</text>
<text x="73.10" y="384.3" class="xl" text-anchor="middle">1hz (n=11)</text>
<text x="114.30" y="384.3" class="xl" text-anchor="middle">10hz (n=11)</text>
<text x="155.80" y="384.3" class="xl" text-anchor="middle">50hz (n=8)</text>
<text x="197.10" y="384.3" class="xl" text-anchor="middle">4CmC (n=16)</text>
<text transform="translate(7.5,327.6) rotate(-90)" class="yl">% Change in F/F<tspan font-size="5" dy="2.2">i</tspan></text>
<line x1="337.40" y1="347.26" x2="337.40" y2="343.44" stroke="#000" stroke-width="1.1"/>
<line x1="334.80" y1="343.44" x2="340.00" y2="343.44" stroke="#000" stroke-width="1.2"/>
<rect x="325.30" y="347.86" width="24.20" height="25.54" fill="#ffffff" stroke="#000" stroke-width="1.25"/>
<line x1="337.40" y1="373.40" x2="337.40" y2="375.40" stroke="#000" stroke-width="0.9"/>
<line x1="378.70" y1="276.64" x2="378.70" y2="270.31" stroke="#000" stroke-width="1.1"/>
<line x1="376.10" y1="270.31" x2="381.30" y2="270.31" stroke="#000" stroke-width="1.2"/>
<rect x="366.60" y="277.24" width="24.20" height="96.16" fill="url(#hatchE)" stroke="#000" stroke-width="1.25"/>
<line x1="378.70" y1="373.40" x2="378.70" y2="375.40" stroke="#000" stroke-width="0.9"/>
<line x1="419.90" y1="257.50" x2="419.90" y2="253.68" stroke="#000" stroke-width="1.1"/>
<line x1="417.30" y1="253.68" x2="422.50" y2="253.68" stroke="#000" stroke-width="1.2"/>
<rect x="407.80" y="258.10" width="24.20" height="115.30" fill="#c0c0c0" stroke="#000" stroke-width="1.25"/>
<line x1="419.90" y1="373.40" x2="419.90" y2="375.40" stroke="#000" stroke-width="0.9"/>
<rect x="449.60" y="242.40" width="24.20" height="131.00" fill="#000000" stroke="#000" stroke-width="1.25"/>
<line x1="461.70" y1="373.40" x2="461.70" y2="375.40" stroke="#000" stroke-width="0.9"/>
<line x1="295.90" y1="228.20" x2="295.90" y2="374.00" stroke="#000" stroke-width="1.3"/>
<line x1="295.40" y1="373.40" x2="503.50" y2="373.40" stroke="#000" stroke-width="1.1"/>
<line x1="293.90" y1="373.40" x2="295.90" y2="373.40" stroke="#000" stroke-width="1.2"/>
<text x="291.30" y="376.30" class="tk" text-anchor="end">0.0</text>
<line x1="293.90" y1="347.00" x2="295.90" y2="347.00" stroke="#000" stroke-width="1.2"/>
<text x="291.30" y="349.90" class="tk" text-anchor="end">0.2</text>
<line x1="293.90" y1="320.60" x2="295.90" y2="320.60" stroke="#000" stroke-width="1.2"/>
<text x="291.30" y="323.50" class="tk" text-anchor="end">0.4</text>
<line x1="293.90" y1="294.20" x2="295.90" y2="294.20" stroke="#000" stroke-width="1.2"/>
<text x="291.30" y="297.10" class="tk" text-anchor="end">0.6</text>
<line x1="293.90" y1="267.80" x2="295.90" y2="267.80" stroke="#000" stroke-width="1.2"/>
<text x="291.30" y="270.70" class="tk" text-anchor="end">0.8</text>
<line x1="293.90" y1="241.40" x2="295.90" y2="241.40" stroke="#000" stroke-width="1.2"/>
<text x="291.30" y="244.30" class="tk" text-anchor="end">1.0</text>
<text x="337.40" y="384.3" class="xl" text-anchor="middle">1hz (n=11)</text>
<text x="378.70" y="384.3" class="xl" text-anchor="middle">10hz (n=11)</text>
<text x="419.90" y="384.3" class="xl" text-anchor="middle">50hz (n=8)</text>
<text x="461.70" y="384.3" class="xl" text-anchor="middle">4CmC (n=16)</text>
<text transform="translate(275.1,333.8) rotate(-90)" class="yl">Fractional Decrease</text>
<line x1="599.10" y1="255.73" x2="599.10" y2="242.52" stroke="#000" stroke-width="1.1"/>
<line x1="596.50" y1="242.52" x2="601.70" y2="242.52" stroke="#000" stroke-width="1.2"/>
<rect x="587.00" y="256.33" width="24.20" height="116.57" fill="#ffffff" stroke="#000" stroke-width="1.25"/>
<line x1="599.10" y1="372.90" x2="599.10" y2="374.90" stroke="#000" stroke-width="0.9"/>
<line x1="640.40" y1="265.18" x2="640.40" y2="258.11" stroke="#000" stroke-width="1.1"/>
<line x1="637.80" y1="258.11" x2="643.00" y2="258.11" stroke="#000" stroke-width="1.2"/>
<rect x="628.30" y="265.78" width="24.20" height="107.12" fill="url(#hatchF)" stroke="#000" stroke-width="1.25"/>
<line x1="640.40" y1="372.90" x2="640.40" y2="374.90" stroke="#000" stroke-width="0.9"/>
<line x1="682.10" y1="267.85" x2="682.10" y2="252.41" stroke="#000" stroke-width="1.1"/>
<line x1="679.50" y1="252.41" x2="684.70" y2="252.41" stroke="#000" stroke-width="1.2"/>
<rect x="670.00" y="268.45" width="24.20" height="104.45" fill="#c0c0c0" stroke="#000" stroke-width="1.25"/>
<line x1="682.10" y1="372.90" x2="682.10" y2="374.90" stroke="#000" stroke-width="0.9"/>
<line x1="723.70" y1="266.62" x2="723.70" y2="256.88" stroke="#000" stroke-width="1.1"/>
<line x1="721.10" y1="256.88" x2="726.30" y2="256.88" stroke="#000" stroke-width="1.2"/>
<rect x="711.60" y="267.22" width="24.20" height="105.68" fill="#000000" stroke="#000" stroke-width="1.25"/>
<line x1="723.70" y1="372.90" x2="723.70" y2="374.90" stroke="#000" stroke-width="0.9"/>
<line x1="557.40" y1="228.60" x2="557.40" y2="373.50" stroke="#000" stroke-width="1.3"/>
<line x1="556.90" y1="372.90" x2="764.80" y2="372.90" stroke="#000" stroke-width="1.1"/>
<line x1="555.40" y1="372.90" x2="557.40" y2="372.90" stroke="#000" stroke-width="1.2"/>
<text x="552.80" y="375.80" class="tk" text-anchor="end">0.0</text>
<line x1="555.40" y1="336.82" x2="557.40" y2="336.82" stroke="#000" stroke-width="1.2"/>
<text x="552.80" y="339.72" class="tk" text-anchor="end">0.5</text>
<line x1="555.40" y1="300.75" x2="557.40" y2="300.75" stroke="#000" stroke-width="1.2"/>
<text x="552.80" y="303.65" class="tk" text-anchor="end">1.0</text>
<line x1="555.40" y1="264.67" x2="557.40" y2="264.67" stroke="#000" stroke-width="1.2"/>
<text x="552.80" y="267.57" class="tk" text-anchor="end">1.5</text>
<line x1="555.40" y1="228.60" x2="557.40" y2="228.60" stroke="#000" stroke-width="1.2"/>
<text x="552.80" y="231.50" class="tk" text-anchor="end">2.0</text>
<text x="599.10" y="384.3" class="xl" text-anchor="middle">1hz (n=11)</text>
<text x="640.40" y="384.3" class="xl" text-anchor="middle">10hz (n=11)</text>
<text x="682.10" y="384.3" class="xl" text-anchor="middle">50hz (n=8)</text>
<text x="723.70" y="384.3" class="xl" text-anchor="middle">4CmC (n=16)</text>
<text transform="translate(534.3,327.4) rotate(-90)" style="font-size:7.3px">F<tspan font-size="4.5" dy="2.1">initial</tspan><tspan dy="-2.1"> (&#916;F/F</tspan><tspan font-size="4.5" dy="2.1">4CmC</tspan><tspan dy="-2.1">)</tspan></text>
</svg>
</body></html>
